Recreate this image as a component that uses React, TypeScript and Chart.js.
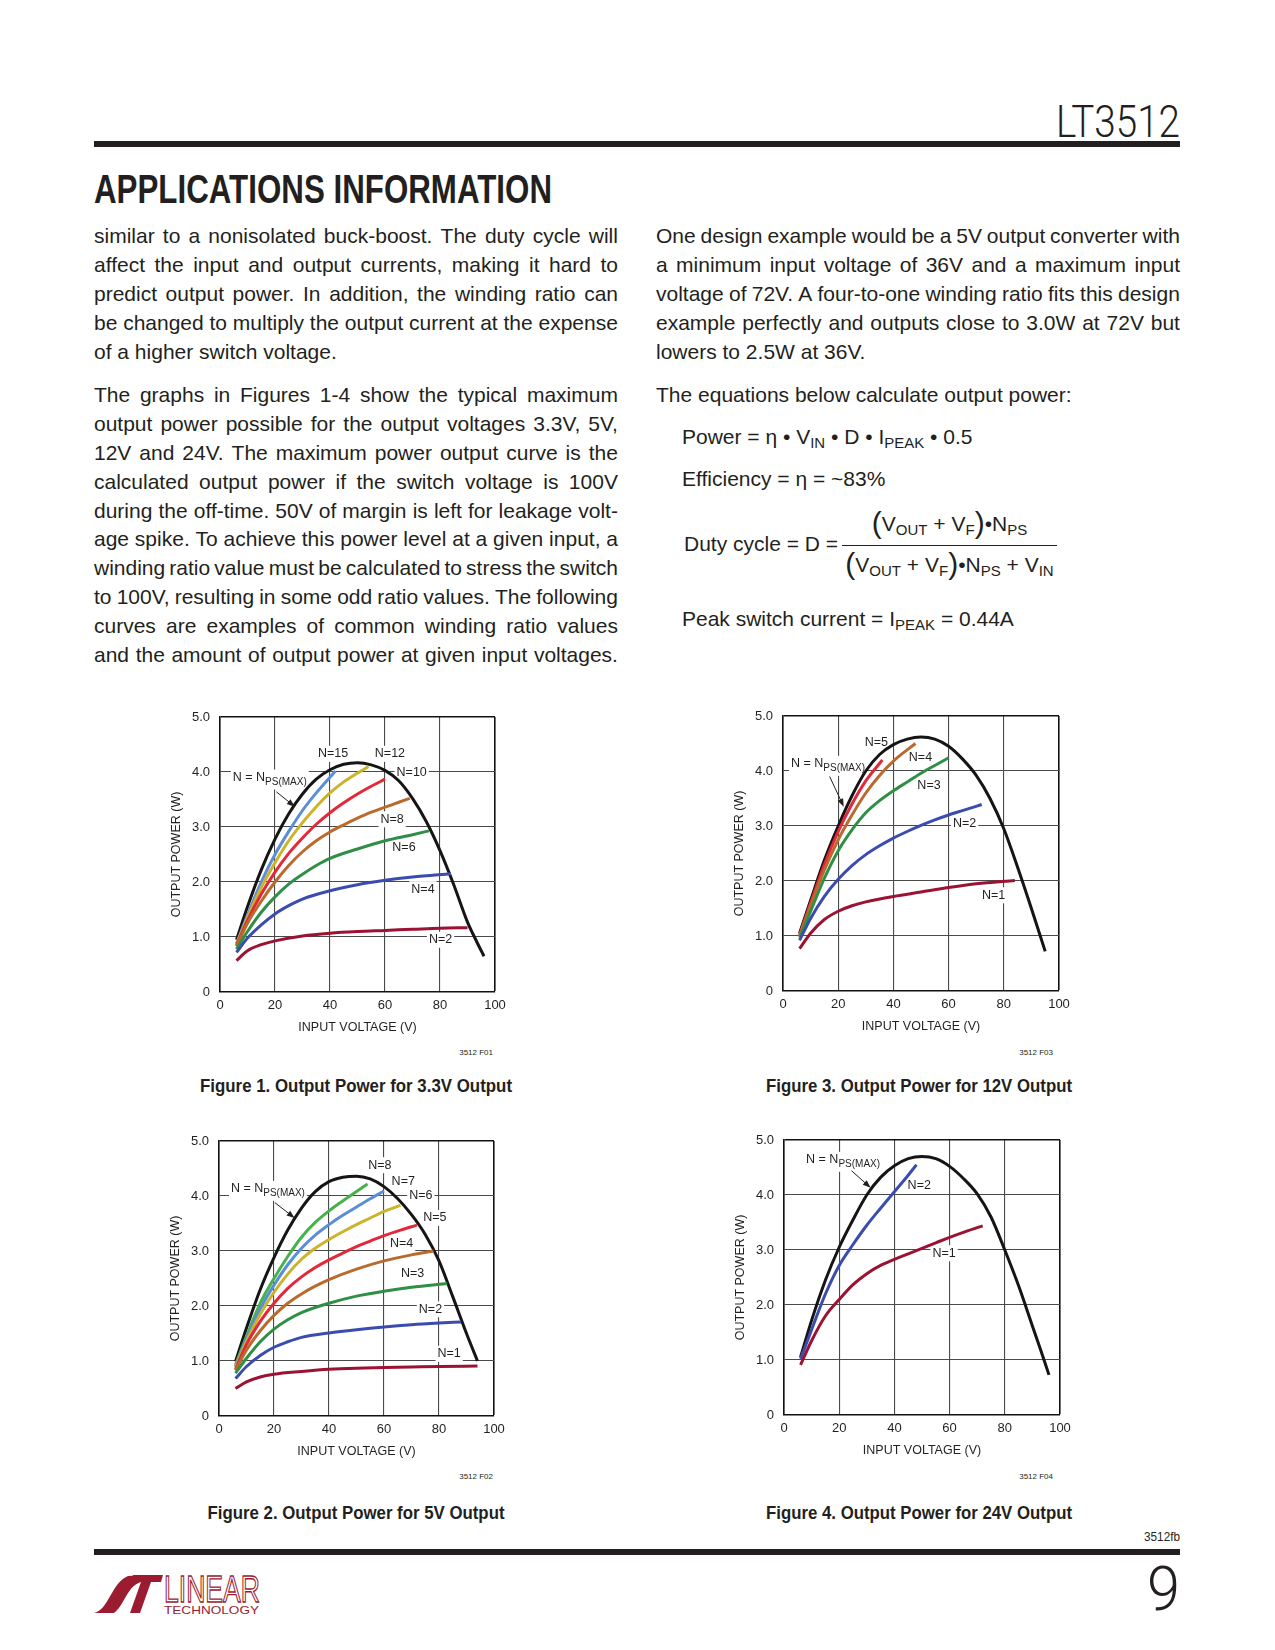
import React, { useEffect, useRef } from "react";
import { Chart, registerables } from "chart.js";
Chart.register(...registerables);

const SANS = "'Liberation Sans', Arial, Helvetica, sans-serif";
const INK = "#231f20";

// ---------- tick labels ----------
const xTickValues = [0, 20, 40, 60, 80, 100];
const yTickValues = [0, 1, 2, 3, 4, 5];
const yTickLabels = ["0", "1.0", "2.0", "3.0", "4.0", "5.0"];

// ---------- Figure 1 : 3.3V output ----------
const f1MaxV = [6, 10, 15, 20, 25, 30, 35, 40, 45, 50, 55, 60, 65, 70, 75, 80, 85, 90, 93, 96];
const f1MaxP = [0.95, 1.55, 2.22, 2.78, 3.24, 3.6, 3.87, 4.04, 4.14, 4.17, 4.13, 4.03, 3.84, 3.52, 3.1, 2.57, 1.95, 1.27, 0.95, 0.65];
const f1N15V = [6, 10, 15, 20, 25, 30, 35, 42];
const f1N15P = [0.88, 1.4, 2.0, 2.5, 2.92, 3.3, 3.62, 4.02];
const f1N12V = [6, 10, 15, 20, 25, 30, 35, 40, 45, 50, 54];
const f1N12P = [0.87, 1.35, 1.9, 2.35, 2.75, 3.08, 3.37, 3.62, 3.82, 3.98, 4.1];
const f1N10V = [6, 10, 15, 20, 25, 30, 35, 40, 45, 50, 55, 60];
const f1N10P = [0.85, 1.3, 1.78, 2.18, 2.52, 2.8, 3.05, 3.26, 3.44, 3.6, 3.74, 3.87];
const f1N8V = [6, 10, 15, 20, 25, 30, 35, 40, 45, 50, 55, 60, 65, 69];
const f1N8P = [0.83, 1.25, 1.65, 2.0, 2.3, 2.55, 2.75, 2.91, 3.04, 3.16, 3.27, 3.36, 3.45, 3.52];
const f1N6V = [6, 10, 15, 20, 25, 30, 35, 40, 50, 60, 70, 76];
const f1N6P = [0.78, 1.1, 1.45, 1.73, 1.96, 2.14, 2.3, 2.43, 2.6, 2.75, 2.86, 2.93];
const f1N4V = [6, 10, 15, 20, 25, 30, 40, 50, 60, 70, 84];
const f1N4P = [0.72, 0.98, 1.22, 1.42, 1.57, 1.69, 1.84, 1.95, 2.03, 2.09, 2.15];
const f1N2V = [6, 10, 15, 20, 30, 40, 50, 60, 70, 80, 90];
const f1N2P = [0.57, 0.75, 0.86, 0.93, 1.02, 1.07, 1.1, 1.12, 1.14, 1.16, 1.17];

// ---------- Figure 2 : 5V output ----------
const f2MaxV = [6, 10, 15, 20, 25, 30, 35, 40, 45, 50, 55, 60, 65, 70, 75, 80, 85, 90, 94];
const f2MaxP = [0.99, 1.6, 2.3, 2.88, 3.38, 3.78, 4.08, 4.26, 4.34, 4.36, 4.31, 4.17, 3.95, 3.66, 3.3, 2.82, 2.17, 1.5, 1.0];
const f2N8V = [6, 10, 15, 20, 25, 30, 35, 40, 45, 50, 54];
const f2N8P = [0.93, 1.45, 2.05, 2.5, 2.9, 3.25, 3.52, 3.73, 3.91, 4.08, 4.22];
const f2N7V = [6, 10, 15, 20, 25, 30, 35, 40, 45, 50, 55, 60];
const f2N7P = [0.9, 1.4, 1.95, 2.38, 2.75, 3.05, 3.29, 3.48, 3.65, 3.8, 3.95, 4.09];
const f2N6V = [6, 10, 15, 20, 25, 30, 35, 40, 45, 50, 55, 60, 66];
const f2N6P = [0.88, 1.35, 1.85, 2.25, 2.58, 2.85, 3.05, 3.21, 3.35, 3.48, 3.6, 3.72, 3.83];
const f2N5V = [6, 10, 15, 20, 25, 30, 35, 40, 45, 50, 55, 60, 66, 72];
const f2N5P = [0.85, 1.3, 1.72, 2.05, 2.32, 2.53, 2.7, 2.84, 2.96, 3.08, 3.18, 3.28, 3.38, 3.47];
const f2N4V = [6, 10, 15, 20, 25, 30, 35, 40, 50, 60, 70, 78];
const f2N4P = [0.83, 1.2, 1.55, 1.83, 2.05, 2.22, 2.36, 2.48, 2.67, 2.82, 2.93, 3.0];
const f2N3V = [6, 10, 15, 20, 25, 30, 40, 50, 60, 70, 83];
const f2N3P = [0.78, 1.05, 1.35, 1.58, 1.75, 1.88, 2.05, 2.18, 2.27, 2.34, 2.41];
const f2N2V = [6, 10, 15, 20, 25, 30, 40, 50, 60, 70, 80, 88];
const f2N2P = [0.68, 0.9, 1.1, 1.25, 1.35, 1.43, 1.51, 1.57, 1.62, 1.66, 1.69, 1.71];
const f2N1V = [6, 10, 15, 20, 30, 40, 50, 60, 70, 80, 94];
const f2N1P = [0.5, 0.62, 0.71, 0.76, 0.81, 0.85, 0.87, 0.88, 0.89, 0.9, 0.91];

// ---------- Figure 3 : 12V output ----------
const f3MaxV = [6, 10, 15, 20, 25, 30, 35, 40, 45, 50, 55, 60, 65, 70, 75, 80, 85, 90, 95];
const f3MaxP = [1.05, 1.65, 2.38, 3.0, 3.55, 4.0, 4.3, 4.48, 4.58, 4.62, 4.58, 4.45, 4.22, 3.92, 3.5, 2.95, 2.25, 1.5, 0.72];
const f3N5V = [6, 10, 15, 20, 25, 30, 36];
const f3N5P = [1.02, 1.6, 2.3, 2.9, 3.4, 3.82, 4.2];
const f3N4V = [6, 10, 15, 20, 25, 30, 35, 40, 48];
const f3N4P = [1.0, 1.55, 2.2, 2.75, 3.2, 3.6, 3.92, 4.18, 4.5];
const f3N3V = [6, 10, 15, 20, 25, 30, 35, 40, 45, 50, 55, 60];
const f3N3P = [0.97, 1.45, 2.05, 2.55, 2.93, 3.24, 3.46, 3.64, 3.8, 3.96, 4.1, 4.24];
const f3N2V = [6, 10, 15, 20, 25, 30, 35, 40, 45, 50, 55, 60, 65, 72];
const f3N2P = [0.92, 1.32, 1.72, 2.03, 2.28, 2.48, 2.64, 2.78, 2.9, 3.01, 3.11, 3.2, 3.28, 3.39];
const f3N1V = [6, 10, 15, 20, 25, 30, 40, 50, 60, 70, 84];
const f3N1P = [0.77, 1.05, 1.3, 1.45, 1.55, 1.62, 1.72, 1.8, 1.88, 1.95, 2.01];

// ---------- Figure 4 : 24V output ----------
const f4MaxV = [6, 10, 15, 20, 25, 30, 35, 40, 45, 50, 55, 60, 65, 70, 75, 80, 85, 90, 93, 96];
const f4MaxP = [1.05, 1.72, 2.45, 3.05, 3.55, 4.0, 4.32, 4.53, 4.66, 4.7, 4.66, 4.52, 4.3, 4.02, 3.6, 3.0, 2.35, 1.62, 1.18, 0.73];
const f4N2V = [6, 10, 15, 20, 25, 30, 35, 40, 45, 48];
const f4N2P = [1.02, 1.55, 2.2, 2.72, 3.1, 3.45, 3.76, 4.06, 4.36, 4.55];
const f4N1V = [6, 10, 15, 20, 25, 30, 35, 40, 45, 50, 55, 60, 66, 72];
const f4N1P = [0.91, 1.35, 1.8, 2.1, 2.37, 2.57, 2.72, 2.83, 2.93, 3.03, 3.13, 3.23, 3.34, 3.44];

// ---------- colours ----------
const C_BLACK = "#161415";
const C_LBLUE = "#5b8ed6";
const C_GOLD = "#cbb32b";
const C_RED = "#e3283a";
const C_BROWN = "#b96a2c";
const C_GREEN = "#2f8f46";
const C_LGREEN = "#45b24a";
const C_BLUE = "#3b4cae";
const C_WINE = "#9b1233";

type Series = { v: number[]; p: number[]; color: string };
type Label = { text: string; sub?: string; x: number; y: number };
type Arrow = { x1: number; y1: number; x2: number; y2: number };

const fig1Series: Series[] = [
  { v: f1N2V, p: f1N2P, color: C_WINE },
  { v: f1N4V, p: f1N4P, color: C_BLUE },
  { v: f1N6V, p: f1N6P, color: C_GREEN },
  { v: f1N8V, p: f1N8P, color: C_BROWN },
  { v: f1N10V, p: f1N10P, color: C_RED },
  { v: f1N12V, p: f1N12P, color: C_GOLD },
  { v: f1N15V, p: f1N15P, color: C_LBLUE },
  { v: f1MaxV, p: f1MaxP, color: C_BLACK },
];
const fig1Labels: Label[] = [
  { text: "N=15", x: 41.1, y: 4.33 },
  { text: "N=12", x: 61.8, y: 4.33 },
  { text: "N=10", x: 69.7, y: 3.99 },
  { text: "N=8", x: 62.6, y: 3.14 },
  { text: "N=6", x: 66.9, y: 2.62 },
  { text: "N=4", x: 73.8, y: 1.87 },
  { text: "N=2", x: 80.2, y: 0.95 },
  { text: "N = N", sub: "PS(MAX)", x: 18.1, y: 3.9 },
];
const fig1Arrow: Arrow = { x1: 20.5, y1: 3.64, x2: 27.2, y2: 3.37 };

const fig2Series: Series[] = [
  { v: f2N1V, p: f2N1P, color: C_WINE },
  { v: f2N2V, p: f2N2P, color: C_BLUE },
  { v: f2N3V, p: f2N3P, color: C_GREEN },
  { v: f2N4V, p: f2N4P, color: C_BROWN },
  { v: f2N5V, p: f2N5P, color: C_RED },
  { v: f2N6V, p: f2N6P, color: C_GOLD },
  { v: f2N7V, p: f2N7P, color: C_LBLUE },
  { v: f2N8V, p: f2N8P, color: C_LGREEN },
  { v: f2MaxV, p: f2MaxP, color: C_BLACK },
];
const fig2Labels: Label[] = [
  { text: "N=8", x: 58.5, y: 4.56 },
  { text: "N=7", x: 67.0, y: 4.26 },
  { text: "N=6", x: 73.4, y: 4.0 },
  { text: "N=5", x: 78.5, y: 3.6 },
  { text: "N=4", x: 66.4, y: 3.13 },
  { text: "N=3", x: 70.4, y: 2.59 },
  { text: "N=2", x: 76.9, y: 1.94 },
  { text: "N=1", x: 83.7, y: 1.13 },
  { text: "N = N", sub: "PS(MAX)", x: 17.8, y: 4.13 },
];
const fig2Arrow: Arrow = { x1: 20.3, y1: 3.88, x2: 27.5, y2: 3.6 };

const fig3Series: Series[] = [
  { v: f3N1V, p: f3N1P, color: C_WINE },
  { v: f3N2V, p: f3N2P, color: C_BLUE },
  { v: f3N3V, p: f3N3P, color: C_GREEN },
  { v: f3N4V, p: f3N4P, color: C_BROWN },
  { v: f3N5V, p: f3N5P, color: C_RED },
  { v: f3MaxV, p: f3MaxP, color: C_BLACK },
];
const fig3Labels: Label[] = [
  { text: "N=5", x: 33.8, y: 4.52 },
  { text: "N=4", x: 49.8, y: 4.25 },
  { text: "N=3", x: 52.9, y: 3.74 },
  { text: "N=2", x: 65.8, y: 3.05 },
  { text: "N=1", x: 76.3, y: 1.74 },
  { text: "N = N", sub: "PS(MAX)", x: 16.3, y: 4.13 },
];
const fig3Arrow: Arrow = { x1: 16.9, y1: 3.9, x2: 22.0, y2: 3.35 };

const fig4Series: Series[] = [
  { v: f4N1V, p: f4N1P, color: C_WINE },
  { v: f4N2V, p: f4N2P, color: C_BLUE },
  { v: f4MaxV, p: f4MaxP, color: C_BLACK },
];
const fig4Labels: Label[] = [
  { text: "N=2", x: 49.0, y: 4.18 },
  { text: "N=1", x: 58.0, y: 2.94 },
  { text: "N = N", sub: "PS(MAX)", x: 21.4, y: 4.64 },
];
const fig4Arrow: Arrow = { x1: 24.5, y1: 4.44, x2: 31.4, y2: 4.13 };

// ---------- chart component ----------
const PAD_L = 60;
const PAD_T = 18;
const PAD_R = 18;
const PAD_B = 48;

function PowerChart(props: {
  left: number; top: number; w: number; h: number;
  series: Series[]; labels: Label[]; arrow: Arrow;
}) {
  const ref = useRef<HTMLCanvasElement | null>(null);
  const { left, top, w, h, series, labels, arrow } = props;
  useEffect(() => {
    if (!ref.current) return;
    const annot = {
      id: "annot",
      beforeDatasetsDraw(chart: any) {
        const { ctx } = chart;
        const xs = chart.scales.x;
        const ys = chart.scales.y;
        ctx.save();
        for (const l of labels) {
          const px = xs.getPixelForValue(l.x);
          const py = ys.getPixelForValue(l.y);
          ctx.font = `12.5px ${SANS}`;
          const w1 = ctx.measureText(l.text).width;
          let w2 = 0;
          if (l.sub) {
            ctx.font = `10px ${SANS}`;
            w2 = ctx.measureText(l.sub).width;
          }
          const tw = w1 + w2;
          ctx.fillStyle = "#ffffff";
          ctx.fillRect(px - tw / 2 - 2, py - 8, tw + 4, l.sub ? 20 : 16);
          ctx.fillStyle = INK;
          ctx.textBaseline = "middle";
          ctx.textAlign = "left";
          ctx.font = `12.5px ${SANS}`;
          ctx.fillText(l.text, px - tw / 2, py);
          if (l.sub) {
            ctx.font = `10px ${SANS}`;
            ctx.fillText(l.sub, px - tw / 2 + w1, py + 4.5);
          }
        }
        ctx.restore();
      },
      afterDatasetsDraw(chart: any) {
        const { ctx } = chart;
        const xs = chart.scales.x;
        const ys = chart.scales.y;
        const x1 = xs.getPixelForValue(arrow.x1);
        const y1 = ys.getPixelForValue(arrow.y1);
        const x2 = xs.getPixelForValue(arrow.x2);
        const y2 = ys.getPixelForValue(arrow.y2);
        const ang = Math.atan2(y2 - y1, x2 - x1);
        const c = Math.cos(ang);
        const s = Math.sin(ang);
        ctx.save();
        ctx.strokeStyle = INK;
        ctx.fillStyle = INK;
        ctx.lineWidth = 1;
        ctx.beginPath();
        ctx.moveTo(x1, y1);
        ctx.lineTo(x2 - 5 * c, y2 - 5 * s);
        ctx.stroke();
        ctx.beginPath();
        ctx.moveTo(x2, y2);
        ctx.lineTo(x2 - 8 * c + 3 * s, y2 - 8 * s - 3 * c);
        ctx.lineTo(x2 - 8 * c - 3 * s, y2 - 8 * s + 3 * c);
        ctx.closePath();
        ctx.fill();
        ctx.restore();
      },
    };
    const chart = new Chart(ref.current, {
      type: "line",
      data: {
        datasets: series.map((sr) => ({
          data: sr.v.map((v, i) => ({ x: v, y: sr.p[i] })),
          borderColor: sr.color,
          backgroundColor: sr.color,
          borderWidth: 3,
          pointRadius: 0,
          fill: false,
          cubicInterpolationMode: "monotone" as const,
          borderCapStyle: "butt" as const,
        })),
      },
      options: {
        animation: false,
        responsive: false,
        devicePixelRatio: 1,
        events: [],
        layout: { padding: { top: PAD_T, right: PAD_R, left: 0, bottom: 0 } },
        plugins: { legend: { display: false }, tooltip: { enabled: false } },
        scales: {
          x: {
            type: "linear",
            min: 0,
            max: 100,
            afterFit: (sc: any) => { sc.height = PAD_B; },
            afterBuildTicks: (sc: any) => { sc.ticks = xTickValues.map((v) => ({ value: v })); },
            ticks: { color: INK, font: { size: 13, family: SANS }, padding: 6, maxRotation: 0, autoSkip: false },
            grid: {
              drawTicks: false,
              color: (c: any) => (c.tick && c.tick.value === 100 ? "#111" : "#4a4a4a"),
              lineWidth: (c: any) => (c.tick && c.tick.value === 100 ? 1.6 : 1.1),
            },
            border: { display: true, color: "#111", width: 1.6 },
            title: { display: true, text: "INPUT VOLTAGE (V)", color: INK, font: { size: 12.5, family: SANS }, padding: { top: 0, bottom: 5 } },
          },
          y: {
            type: "linear",
            min: 0,
            max: 5,
            afterFit: (sc: any) => { sc.width = PAD_L; },
            afterBuildTicks: (sc: any) => { sc.ticks = yTickValues.map((v) => ({ value: v })); },
            ticks: {
              color: INK,
              font: { size: 13, family: SANS },
              padding: 10,
              autoSkip: false,
              callback: (v: any) => yTickLabels[yTickValues.indexOf(Number(v))] ?? "",
            },
            grid: {
              drawTicks: false,
              color: (c: any) => (c.tick && c.tick.value === 5 ? "#111" : "#4a4a4a"),
              lineWidth: (c: any) => (c.tick && c.tick.value === 5 ? 1.6 : 1.1),
            },
            border: { display: true, color: "#111", width: 1.6 },
            title: { display: true, text: "OUTPUT POWER (W)", color: INK, font: { size: 12.5, family: SANS }, padding: { top: 9, bottom: 0 } },
          },
        },
      },
      plugins: [annot],
    } as any);
    return () => chart.destroy();
  }, []);
  return (
    <canvas
      ref={ref}
      width={w + PAD_L + PAD_R}
      height={h + PAD_T + PAD_B}
      style={{ position: "absolute", left: left - PAD_L, top: top - PAD_T, width: w + PAD_L + PAD_R, height: h + PAD_T + PAD_B }}
    />
  );
}

// ---------- text ----------
const leftP1 = [
  "similar to a nonisolated buck-boost. The duty cycle will",
  "affect the input and output currents, making it hard to",
  "predict output power. In addition, the winding ratio can",
  "be changed to multiply the output current at the expense",
  "of a higher switch voltage.",
];
const leftP2 = [
  "The graphs in Figures 1-4 show the typical maximum",
  "output power possible for the output voltages 3.3V, 5V,",
  "12V and 24V. The maximum power output curve is the",
  "calculated output power if the switch voltage is 100V",
  "during the off-time. 50V of margin is left for leakage volt-",
  "age spike. To achieve this power level at a given input, a",
  "winding ratio value must be calculated to stress the switch",
  "to 100V, resulting in some odd ratio values. The following",
  "curves are examples of common winding ratio values",
  "and the amount of output power at given input voltages.",
];
const rightP1 = [
  "One design example would be a 5V output converter with",
  "a minimum input voltage of 36V and a maximum input",
  "voltage of 72V. A four-to-one winding ratio fits this design",
  "example perfectly and outputs close to 3.0W at 72V but",
  "lowers to 2.5W at 36V.",
];
const rightP2 = ["The equations below calculate output power:"];

const LINE_H = 28.9;

function Para(props: { lines: string[]; left: number; top: number; justifyLast?: boolean }) {
  const { lines, left, top, justifyLast } = props;
  return (
    <div style={{ position: "absolute", left, top, width: 524, fontFamily: SANS, fontSize: 21, lineHeight: `${LINE_H}px`, color: INK }}>
      {lines.map((ln, i) => {
        const just = i < lines.length - 1 || justifyLast;
        if (!just) return <div key={i} style={{ whiteSpace: "pre", height: LINE_H }}>{ln}</div>;
        return (
          <div key={i} style={{ display: "flex", justifyContent: "space-between", whiteSpace: "pre", height: LINE_H }}>
            {ln.split(" ").map((wd, j) => <span key={j}>{wd}</span>)}
          </div>
        );
      })}
    </div>
  );
}

const subStyle: React.CSSProperties = { fontSize: 15, verticalAlign: "-4px", lineHeight: 0 };
const bigParen: React.CSSProperties = { fontSize: 30, lineHeight: 0, verticalAlign: "-2px" };

function Equations() {
  const base: React.CSSProperties = { position: "absolute", fontFamily: SANS, fontSize: 21, lineHeight: "29px", color: INK, whiteSpace: "pre" };
  return (
    <>
      <div style={{ ...base, left: 682, top: 422 }}>
        Power = η • V<span style={subStyle}>IN</span> • D • I<span style={subStyle}>PEAK</span> • 0.5
      </div>
      <div style={{ ...base, left: 682, top: 464 }}>Efficiency = η = ~83%</div>
      <div style={{ ...base, left: 684, top: 529 }}>Duty cycle = D =</div>
      <div style={{ ...base, left: 842, width: 215, top: 509, textAlign: "center" }}>
        <span style={bigParen}>(</span>V<span style={subStyle}>OUT</span> + V<span style={subStyle}>F</span><span style={bigParen}>)</span>•N<span style={subStyle}>PS</span>
      </div>
      <div style={{ position: "absolute", left: 842, top: 545, width: 215, height: 1, background: INK }} />
      <div style={{ ...base, left: 842, width: 215, top: 550, textAlign: "center" }}>
        <span style={bigParen}>(</span>V<span style={subStyle}>OUT</span> + V<span style={subStyle}>F</span><span style={bigParen}>)</span>•N<span style={subStyle}>PS</span> + V<span style={subStyle}>IN</span>
      </div>
      <div style={{ ...base, left: 682, top: 604 }}>
        Peak switch current = I<span style={subStyle}>PEAK</span> = 0.44A
      </div>
    </>
  );
}

function StaticText() {
  const logo = "#9b1b30";
  const LIGHT = "Roboto, 'Liberation Sans', sans-serif";
  return (
    <svg width={1275} height={1650} style={{ position: "absolute", left: 0, top: 0 }}>
      <text x={1180} y={137} textAnchor="end" fontFamily={LIGHT} fontWeight={300} fontSize={44} textLength={124} lengthAdjust="spacingAndGlyphs" fill={INK}>LT3512</text>
      <rect x={94} y={141} width={1086} height={6} fill={INK} />
      <text x={94} y={203} fontFamily={SANS} fontWeight="bold" fontSize={40} textLength={458} lengthAdjust="spacingAndGlyphs" fill={INK}>APPLICATIONS INFORMATION</text>

      <text x={356} y={1092} textAnchor="middle" fontFamily={SANS} fontWeight="bold" fontSize={18} textLength={312} lengthAdjust="spacingAndGlyphs" fill={INK}>Figure 1. Output Power for 3.3V Output</text>
      <text x={919} y={1092} textAnchor="middle" fontFamily={SANS} fontWeight="bold" fontSize={18} textLength={306} lengthAdjust="spacingAndGlyphs" fill={INK}>Figure 3. Output Power for 12V Output</text>
      <text x={356} y={1519} textAnchor="middle" fontFamily={SANS} fontWeight="bold" fontSize={18} textLength={297} lengthAdjust="spacingAndGlyphs" fill={INK}>Figure 2. Output Power for 5V Output</text>
      <text x={919} y={1519} textAnchor="middle" fontFamily={SANS} fontWeight="bold" fontSize={18} textLength={306} lengthAdjust="spacingAndGlyphs" fill={INK}>Figure 4. Output Power for 24V Output</text>

      <text x={493} y={1055} textAnchor="end" fontFamily={SANS} fontSize={8} fill={INK}>3512 F01</text>
      <text x={1053} y={1055} textAnchor="end" fontFamily={SANS} fontSize={8} fill={INK}>3512 F03</text>
      <text x={493} y={1479} textAnchor="end" fontFamily={SANS} fontSize={8} fill={INK}>3512 F02</text>
      <text x={1053} y={1479} textAnchor="end" fontFamily={SANS} fontSize={8} fill={INK}>3512 F04</text>

      <text x={1180} y={1541} textAnchor="end" fontFamily={SANS} fontSize={12} textLength={36} lengthAdjust="spacingAndGlyphs" fill={INK}>3512fb</text>
      <rect x={94} y={1549} width={1086} height={6} fill={INK} />
      <text x={1180} y={1610} textAnchor="end" fontFamily={LIGHT} fontWeight={300} fontSize={62} textLength={33} lengthAdjust="spacingAndGlyphs" fill={INK}>9</text>

      <path d="M94,1613 C108,1611 112,1582 128,1576 L146,1575 L141,1582 C127,1586 124,1606 114,1613 Z" fill={logo} />
      <path d="M133,1575 L163,1575 L161,1582 L151,1582 L140,1613 L130,1613 L141,1582 L131,1582 Z" fill={logo} />
      <text x={164} y={1602} fontFamily={SANS} fontSize={36} textLength={96} lengthAdjust="spacingAndGlyphs" fill="none" stroke={logo} strokeWidth={1.3}>LINEAR</text>
      <text x={164} y={1614} fontFamily={SANS} fontSize={11} textLength={95} lengthAdjust="spacingAndGlyphs" fill={logo}>TECHNOLOGY</text>
    </svg>
  );
}

export default function App() {
  return (
    <div style={{ position: "absolute", left: 0, top: 0, width: 1275, height: 1650, background: "#fff", overflow: "hidden" }}>
      <StaticText />
      <Para lines={leftP1} left={94} top={222} />
      <Para lines={leftP2} left={94} top={381} justifyLast />
      <Para lines={rightP1} left={656} top={222} />
      <Para lines={rightP2} left={656} top={381} />
      <Equations />
      <PowerChart left={220} top={717} w={275} h={275} series={fig1Series} labels={fig1Labels} arrow={fig1Arrow} />
      <PowerChart left={783} top={716} w={276} h={275} series={fig3Series} labels={fig3Labels} arrow={fig3Arrow} />
      <PowerChart left={219} top={1141} w={275} h={275} series={fig2Series} labels={fig2Labels} arrow={fig2Arrow} />
      <PowerChart left={784} top={1140} w={276} h={275} series={fig4Series} labels={fig4Labels} arrow={fig4Arrow} />
    </div>
  );
}
